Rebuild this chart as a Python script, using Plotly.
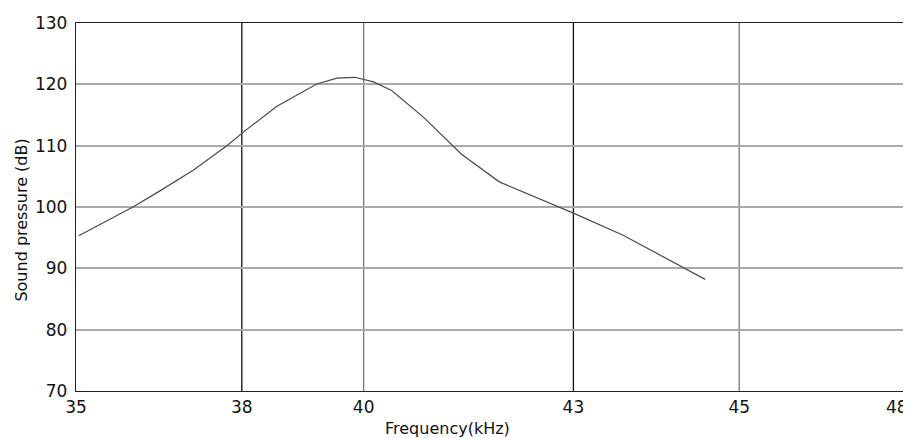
import numpy as np
import plotly.graph_objects as go

# ---- data ----
freq_khz = [35.05, 36.03, 36.46, 37.12, 37.73, 38.0, 38.57, 39.23, 39.56, 39.86,
            40.14, 40.40, 40.85, 41.40, 41.94, 43.0, 43.60, 44.59]
sound_db = [95.3, 100.0, 102.3, 106.0, 110.0, 112.0, 116.4, 120.05, 121.0, 121.15,
            120.4, 119.0, 114.7, 108.6, 104.1, 99.0, 95.4, 88.2]
x_tick_labels = [35, 38, 40, 43, 45, 48]
y_ticks = [70, 80, 90, 100, 110, 120, 130]

# ---- axis layout: the original x axis is non-uniform; ticks sit at these fractions ----
tick_pos = [0.0, 0.2, 0.347, 0.6, 0.8, 1.0]
xpos = np.interp(freq_khz, x_tick_labels, tick_pos)

font_fam = "DejaVu Sans"
fig = go.Figure()
fig.add_trace(go.Scatter(x=xpos, y=sound_db, mode="lines",
                         line=dict(color="#4a4a4a", width=1.2), showlegend=False))

# vertical grid lines (alternating dark / gray as in the reference)
vcolors = {38: "#111111", 40: "#777777", 43: "#111111", 45: "#777777"}
shapes = []
for lab, p in zip(x_tick_labels, tick_pos):
    if lab in vcolors:
        shapes.append(dict(type="line", xref="x", yref="paper", x0=p, x1=p, y0=0, y1=1,
                           line=dict(color=vcolors[lab], width=1.3), layer="below"))

# the last x label sits at the right edge, right-aligned (as in the reference)
xt_text = [str(v) for v in x_tick_labels[:-1]] + [""]

tick_font = dict(size=17, family=font_fam, color="#111111")
annotations = [
    dict(text=str(x_tick_labels[-1]), xref="x", yref="paper", x=tick_pos[-1], y=0,
         xanchor="right", yanchor="top", xshift=5, yshift=-4, showarrow=False,
         font=tick_font),
    dict(text="Frequency(kHz)", xref="paper", yref="paper", x=0.448, y=-0.1025,
         xanchor="center", yanchor="middle", showarrow=False,
         font=dict(size=16, family=font_fam, color="#111111")),
    dict(text="Sound pressure (dB)", xref="paper", yref="paper", x=-0.0655, y=0.465,
         xanchor="center", yanchor="middle", showarrow=False, textangle=-90,
         font=dict(size=16, family=font_fam, color="#111111")),
]

# page has an 8px body margin, so the figure is 903x430 with margins set to match
fig.update_layout(
    width=903, height=430,
    margin=dict(l=68, r=6, t=15, b=47, autoexpand=False),
    paper_bgcolor="white", plot_bgcolor="white",
    font=dict(family=font_fam, color="#111111"),
    shapes=shapes, annotations=annotations,
    xaxis=dict(range=[0, 1], tickvals=tick_pos, ticktext=xt_text,
               automargin=False, ticklabeloverflow="allow",
               showgrid=False, zeroline=False, showline=True, mirror=True,
               linecolor="#222222", linewidth=1.3, ticks="", ticklen=0,
               tickfont=tick_font),
    yaxis=dict(range=[70, 130], tickvals=y_ticks, ticktext=[str(v) for v in y_ticks],
               automargin=False, ticklabeloverflow="allow", ticklabelstandoff=4,
               showgrid=True, gridcolor="#aaaaaa", gridwidth=2, zeroline=False,
               showline=True, mirror=True, linecolor="#222222", linewidth=1.3,
               ticks="", ticklen=0,
               tickfont=tick_font),
)

fig.write_html("out.html")
